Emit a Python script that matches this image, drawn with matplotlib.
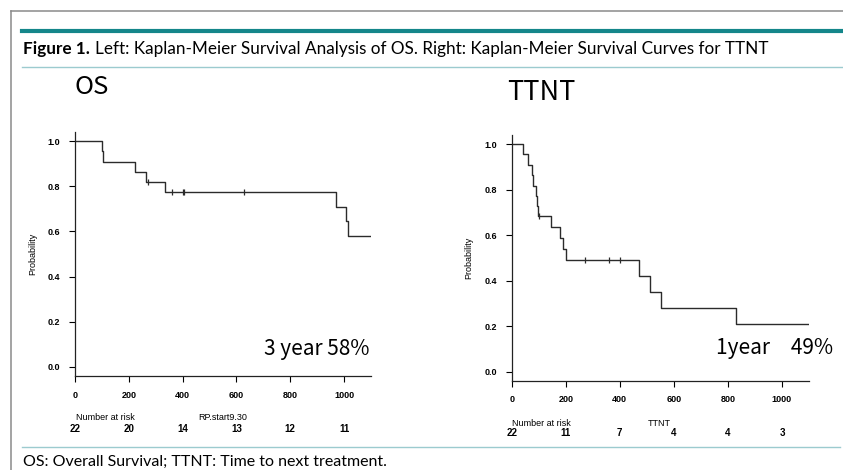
import matplotlib.pyplot as plt
from matplotlib.lines import Line2D
from matplotlib.transforms import blended_transform_factory

# ── Data ──
# OS curve: step times (days) and survival after each step
os_times = [0, 99, 105, 223, 264, 335, 970, 1007, 1016, 1100]
os_surv = [1.0, 0.955, 0.909, 0.864, 0.818, 0.773, 0.708, 0.644, 0.580, 0.580]
os_cens_t = [273, 362, 400, 406, 628]
os_cens_s = [0.818, 0.773, 0.773, 0.773, 0.773]

# TTNT curve
tt_times = [0, 41, 59, 74, 79, 89, 95, 98, 145, 179, 191, 200, 472, 511, 553, 829, 1100]
tt_surv = [1.0, 0.955, 0.909, 0.864, 0.818, 0.773, 0.727, 0.682, 0.636, 0.587,
           0.538, 0.489, 0.419, 0.349, 0.279, 0.209, 0.209]
tt_cens_t = [100, 272, 360, 400]
tt_cens_s = [0.682, 0.489, 0.489, 0.489]

risk_ticks = [0, 200, 400, 600, 800, 1000]
os_at_risk = [22, 20, 14, 13, 12, 11]
tt_at_risk = [22, 11, 7, 4, 4, 3]

W, H = 843, 470
fig = plt.figure(figsize=(W / 100, H / 100), dpi=100)


def px(x, y):
    return x / W, 1 - y / H


def hline(y, x0, x1, color, lw):
    fig.add_artist(Line2D([x0 / W, x1 / W], [1 - y / H] * 2, color=color, lw=lw,
                          transform=fig.transFigure))


# ── Page decoration ──
hline(11, 10.5, 843, "#8a8a8a", 1.1)
fig.add_artist(Line2D([10.5 / W] * 2, [1 - 11 / H, 0], color="#8a8a8a", lw=1.1,
                      transform=fig.transFigure))
hline(31, 22, 843, "#14868a", 3.0)
hline(67, 22, 843, "#9ccbcf", 1.0)
hline(447, 22, 840, "#9ccbcf", 1.0)

cap_font = "Lato"
bold = fig.text(*px(23, 49), "Figure 1.", fontsize=12.3, fontweight="bold",
                family=cap_font, va="center", ha="left")
renderer = fig.canvas.get_renderer()
bx = bold.get_window_extent(renderer).x1
fig.text(bx / W + 5 / W, 1 - 49 / H, "Left: Kaplan-Meier Survival Analysis of OS. Right: "
         "Kaplan-Meier Survival Curves for TTNT",
         fontsize=12.3, family=cap_font, va="center", ha="left")
fig.text(*px(23, 462), "OS: Overall Survival; TTNT: Time to next treatment.",
         fontsize=11.5, family=cap_font, va="center", ha="left")

title_font = ["Noto Sans CJK JP", "DejaVu Sans"]
fig.text(*px(74, 87), "OS", fontsize=18.5, family=title_font, va="center", ha="left")
fig.text(*px(507, 92), "TTNT", fontsize=19.5, family=title_font, va="center",
         ha="left")

tick_font = "Liberation Sans"


def km_panel(rect, times, surv, cens_t, cens_s, at_risk, label_y, row_y,
             name, note, note_xy):
    x0, y0, x1, y1 = rect
    ax = fig.add_axes([x0 / W, 1 - y1 / H, (x1 - x0) / W, (y1 - y0) / H])
    ax.step(times, surv, where="post", color="#2b2b2b", lw=1.0)
    ax.plot(cens_t, cens_s, ls="none", marker="|", ms=5, mew=0.9, color="#2b2b2b")
    ax.set_xlim(0, 1100)
    ax.set_ylim(-0.04, 1.04)
    for s in ("top", "right"):
        ax.spines[s].set_visible(False)
    for s in ("left", "bottom"):
        ax.spines[s].set_linewidth(0.9)
        ax.spines[s].set_color("#222222")
    ax.set_xticks(risk_ticks)
    ax.set_yticks([0.0, 0.2, 0.4, 0.6, 0.8, 1.0])
    ax.set_yticklabels(["0.0", "0.2", "0.4", "0.6", "0.8", "1.0"])
    ax.tick_params(length=4, width=0.8, labelsize=6.5, pad=6.5)
    for lab in ax.get_xticklabels() + ax.get_yticklabels():
        lab.set_family(tick_font)
        lab.set_fontweight("bold")
    ax.set_ylabel("Probability", fontsize=6.5, family=tick_font)
    ax.yaxis.set_label_coords(-38 / (x1 - x0), 0.5)

    tr = blended_transform_factory(ax.transData, fig.transFigure)
    fig.text(*px(x0 + 30, label_y), "Number at risk", fontsize=6.5,
             family=tick_font, ha="center", va="center")
    fig.text(*px(x0 + 148, label_y), name, fontsize=6.5, family=tick_font,
             ha="center", va="center")
    for tk, n in zip(risk_ticks, at_risk):
        ax.text(tk, 1 - row_y / H, str(n), transform=tr, fontsize=7,
                family=tick_font, fontweight="bold", ha="center", va="center")
    fig.text(*px(*note_xy), note, fontsize=15, family=title_font,
             ha="right", va="center")
    return ax


km_panel((75, 132, 371, 376), os_times, os_surv, os_cens_t, os_cens_s,
         os_at_risk, 418, 429, "RP.start9.30", "3 year 58%", (370, 349))
km_panel((511.7, 135, 809, 380.7), tt_times, tt_surv, tt_cens_t, tt_cens_s,
         tt_at_risk, 423, 433, "TTNT", "1year\u300049%", (833, 348))

fig.savefig("out.png", dpi=100)
